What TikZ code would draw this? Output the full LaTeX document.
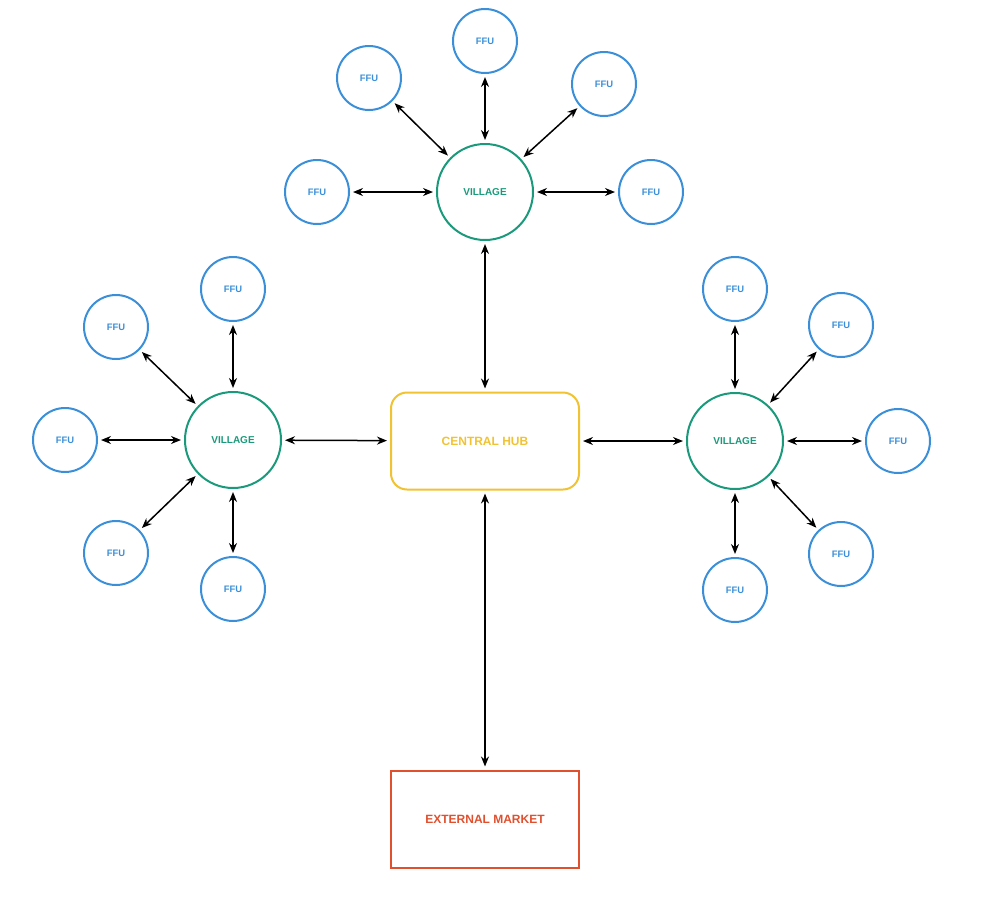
\documentclass[tikz,border=0pt]{standalone}
\usepackage{fontspec}
\setmainfont{Liberation Sans}
\usetikzlibrary{arrows.meta}
\definecolor{ffublue}{HTML}{3A8FD8}
\definecolor{villgreen}{HTML}{1A9A7A}
\definecolor{hubyellow}{HTML}{F1C232}
\definecolor{mktred}{HTML}{E0502F}
\tikzstyle{ffu} = [circle, draw=ffublue, line width=1pt, minimum size=32pt, text=ffublue, font=\bfseries\fontsize{4.7}{5}\selectfont, inner sep=0pt]
\tikzstyle{village} = [circle, draw=villgreen, line width=1pt, minimum size=48pt, text=villgreen, font=\bfseries\fontsize{5}{5}\selectfont, inner sep=0pt]
\tikzstyle{hub} = [rectangle, rounded corners=8pt, draw=hubyellow, line width=1pt, minimum width=94pt, minimum height=48.5pt, text=hubyellow, font=\bfseries\fontsize{6}{6}\selectfont]
\tikzstyle{market} = [rectangle, draw=mktred, line width=1pt, minimum width=94pt, minimum height=48.5pt, text=mktred, font=\bfseries\fontsize{6}{6}\selectfont]
\tikzstyle{arrow} = [line width=0.75pt, {Stealth[length=5pt,width=4pt]}-{Stealth[length=5pt,width=4pt]}, shorten >=1.5pt, shorten <=1.5pt]

\begin{document}
\begin{tikzpicture}[x=0.5pt, y=-0.5pt]
	\useasboundingbox (0,0) rectangle (982,922);
	
	\node (hub) [hub] at (485,441) {CENTRAL HUB};
	\node (mkt) [market] at (485,819) {EXTERNAL MARKET};
	\node (vt) [village] at (485,192) {VILLAGE};
	\node (vl) [village] at (233,440) {VILLAGE};
	\node (vr) [village] at (735,441) {VILLAGE};
	
	\node (t1) [ffu] at (485,41) {FFU};
	\node (t2) [ffu] at (369,78) {FFU};
	\node (t3) [ffu] at (604,84) {FFU};
	\node (t4) [ffu] at (317,192) {FFU};
	\node (t5) [ffu] at (651,192) {FFU};
	
	\node (l1) [ffu] at (233,289) {FFU};
	\node (l2) [ffu] at (116,327) {FFU};
	\node (l3) [ffu] at (65,440) {FFU};
	\node (l4) [ffu] at (116,553) {FFU};
	\node (l5) [ffu] at (233,589) {FFU};
	
	\node (r1) [ffu] at (735,289) {FFU};
	\node (r2) [ffu] at (841,325) {FFU};
	\node (r3) [ffu] at (898,441) {FFU};
	\node (r4) [ffu] at (841,554) {FFU};
	\node (r5) [ffu] at (735,590) {FFU};
	
	\draw [arrow] (hub) -- (mkt);
	\draw [arrow] (hub) -- (vt);
	\draw [arrow] (hub) -- (vl);
	\draw [arrow] (hub) -- (vr);
	\foreach \v/\p in {vt/t, vl/l, vr/r}
		\foreach \i in {1,...,5}
			\draw [arrow] (\v) -- (\p\i);
\end{tikzpicture}
\end{document}
